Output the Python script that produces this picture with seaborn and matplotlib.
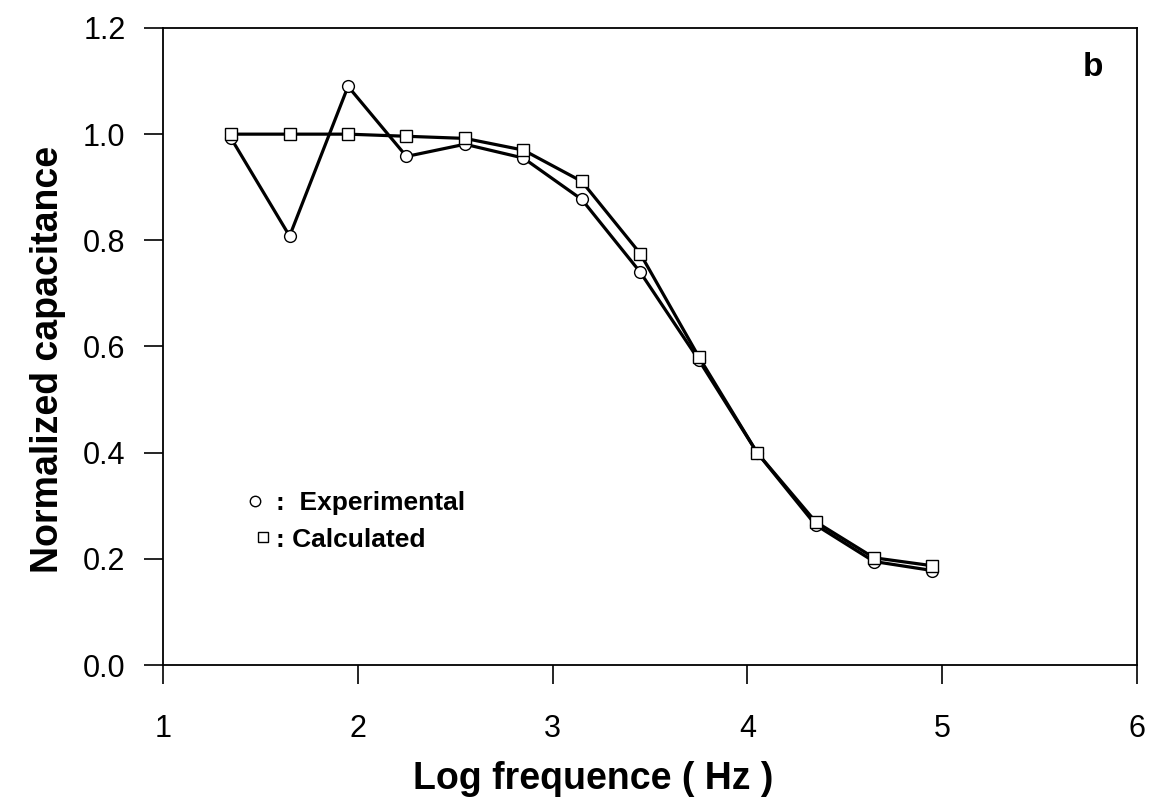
import matplotlib
matplotlib.use("Agg")
import matplotlib.pyplot as plt
import seaborn as sns
import pandas as pd
from matplotlib.lines import Line2D

log_freq = [1.35, 1.65, 1.95, 2.25, 2.55, 2.85, 3.15, 3.45, 3.75, 4.05, 4.35, 4.65, 4.95]
experimental = [0.992, 0.808, 1.09, 0.958, 0.981, 0.955, 0.877, 0.740, 0.575, 0.400, 0.264, 0.195, 0.178]
calculated = [1.0, 1.0, 1.0, 0.996, 0.992, 0.970, 0.911, 0.775, 0.581, 0.400, 0.270, 0.202, 0.187]
series_names = ["Experimental", "Calculated"]
x_ticks = [1, 2, 3, 4, 5, 6]
y_ticks = [0.0, 0.2, 0.4, 0.6, 0.8, 1.0, 1.2]

df = pd.DataFrame({
    "x": log_freq * 2,
    "y": experimental + calculated,
    "series": [series_names[0]] * len(log_freq) + [series_names[1]] * len(log_freq),
})

sns.set_style("ticks")
plt.rcParams["font.family"] = ["Liberation Sans", "DejaVu Sans"]
plt.rcParams["text.color"] = "black"
plt.rcParams["axes.labelcolor"] = "black"

fig = plt.figure(figsize=(11.51, 8.11), dpi=100)
ax = fig.add_axes([0.1416, 0.18, 0.8462, 0.7855])

sns.lineplot(data=df, x="x", y="y", style="series", markers={"Experimental": "o", "Calculated": "s"},
             dashes=False, color="black", linewidth=2.3, markersize=8.5,
             markerfacecolor="white", markeredgecolor="black", markeredgewidth=1.0,
             legend=False, ax=ax, sort=False)

ax.set_xlim(1, 6)
ax.set_ylim(0, 1.2)
ax.set_xticks(x_ticks)
ax.set_yticks(y_ticks)
ax.set_xticklabels([str(t) for t in x_ticks])
ax.set_yticklabels([f"{t:.1f}" for t in y_ticks])
ax.tick_params(axis="both", direction="out", length=14, width=1.2, labelsize=22, colors="black")
ax.tick_params(axis="x", pad=21)
ax.tick_params(axis="y", pad=13)
for s in ax.spines.values():
    s.set_visible(True)
    s.set_linewidth(1.3)
    s.set_color("black")

ax.set_xlabel("Log frequence ( Hz )", fontsize=27, fontweight="bold")
ax.set_ylabel("Normalized capacitance", fontsize=27, fontweight="bold")
ax.xaxis.set_label_coords(0.442, -0.15)
ax.yaxis.set_label_coords(-0.0996, 0.479)

ax.text(0.965, 0.963, "b", transform=ax.transAxes, fontsize=24, fontweight="bold", ha="right", va="top")

h_exp = Line2D([], [], marker="o", linestyle="none", markerfacecolor="white", markeredgecolor="black",
               markersize=7.5, markeredgewidth=1.0)
h_calc = Line2D([], [], marker="s", linestyle="none", markerfacecolor="white", markeredgecolor="black",
                markersize=6.5, markeredgewidth=1.0)
leg1 = ax.legend([h_exp], [":  " + series_names[0]], loc="center left", bbox_to_anchor=(0.0837, 0.254),
                 frameon=False, handlelength=0.8, handletextpad=0.4, borderpad=0, borderaxespad=0,
                 prop={"weight": "bold", "size": 19})
ax.add_artist(leg1)
leg2 = ax.legend([h_calc], [": " + series_names[1]], loc="center left", bbox_to_anchor=(0.0919, 0.197),
                 frameon=False, handlelength=0.8, handletextpad=0.1, borderpad=0, borderaxespad=0,
                 prop={"weight": "bold", "size": 19})

fig.savefig("out.png", dpi=100, facecolor="white")
